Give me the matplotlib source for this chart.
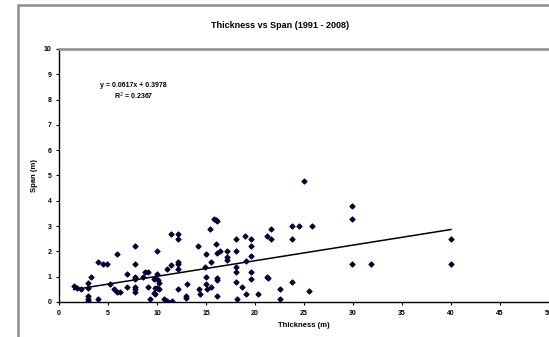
import matplotlib
matplotlib.use('Agg')
import matplotlib.pyplot as plt
from matplotlib.patches import Rectangle
import numpy as np

# thickness (m) vs span (m)
thickness = [1.5, 1.8, 2.2, 3.0, 3.0, 3.0, 3.0, 3.0, 3.3, 4.0, 4.0, 4.5, 4.9,
             5.2, 5.6, 5.9, 6.2, 5.9, 6.9, 6.9, 7.8, 7.8, 7.8, 7.8, 7.8, 7.8,
             7.8, 8.6, 8.8, 9.1, 9.1, 9.3, 9.7, 9.8, 9.8, 10.0, 10.2, 9.7, 9.8,
             10.0, 10.0, 10.1, 10.2, 10.7, 10.9, 11.0, 11.0, 11.4, 11.4, 11.5,
             12.1, 12.1, 12.1, 12.1, 12.1, 12.1, 13.0, 13.0, 13.1, 14.2, 14.3,
             14.4, 14.9, 15.0, 15.0, 15.0, 15.1, 15.4, 15.5, 15.5, 15.8, 16.0,
             16.1, 16.0, 16.1, 16.1, 16.1, 16.1, 16.4, 17.1, 17.1, 17.1, 18.1,
             18.1, 18.1, 18.1, 18.1, 18.2, 18.7, 19.0, 19.1, 19.1, 19.6, 19.6,
             19.6, 19.6, 19.6, 20.3, 21.2, 21.2, 21.3, 21.6, 21.6, 22.5, 22.6,
             23.8, 23.8, 23.8, 24.5, 25.0, 25.5, 25.8, 29.9, 29.9, 29.9, 31.8,
             40.0, 40.0]
span = [0.62, 0.55, 0.52, 0.75, 0.55, 0.22, 0.10, 0.05, 1.0, 0.1, 1.6, 1.5, 1.5,
        0.7, 0.5, 0.4, 0.4, 1.9, 1.1, 0.6, 2.2, 1.5, 1.0, 0.9, 0.6, 0.5,
        0.4, 1.0, 1.2, 1.2, 0.6, 0.1, 0.9, 0.95, 0.55, 0.55, 0.5, 0.35, 0.3,
        2.0, 1.1, 0.85, 0.75, 0.1, 0.05, 0.03, 1.3, 2.7, 1.45, 0.05,
        2.7, 2.5, 1.6, 1.5, 1.3, 0.5, 0.25, 0.15, 0.7, 2.2, 0.5,
        0.3, 1.4, 1.9, 1.0, 0.7, 0.5, 2.9, 1.6, 0.6, 3.3, 3.25,
        3.2, 2.3, 1.95, 0.95, 0.88, 0.22, 2.0, 2.0, 1.77, 1.67, 2.5,
        2.0, 1.4, 1.2, 0.8, 0.1, 0.6, 2.6, 1.64, 0.3, 2.5, 2.2,
        1.8, 1.2, 0.9, 0.3, 2.6, 1.0, 0.95, 2.9, 2.5, 0.5, 0.1,
        3.0, 2.5, 0.8, 3.0, 4.8, 0.42, 3.0, 3.8, 3.3, 1.5, 1.5,
        2.5, 1.5]

slope = 0.0617
intercept = 0.3978
r_squared = 0.2367

plt.rcParams['font.family'] = ['Liberation Sans', 'DejaVu Sans']

fig = plt.figure(figsize=(5.49, 3.37), dpi=100)

# outer chart frame (Excel chart area)
fig.patches.append(Rectangle((18 / 549, -0.1), 1.0, 1 - 5 / 337 + 0.1,
                             transform=fig.transFigure, fill=False,
                             edgecolor='#8c8c8c', linewidth=1.8))

ax = fig.add_axes([59 / 549, 35 / 337, 490 / 549, 253 / 337])

ax.scatter(thickness, span, marker='D', s=6, color='#000033', zorder=3)

xs = np.array([min(thickness), max(thickness)])
ax.plot(xs, slope * xs + intercept, color='black', linewidth=1.1, zorder=2)

ax.set_xlim(0, 50)
ax.set_ylim(0, 10)
ax.set_xticks(range(0, 51, 5))
ax.set_yticks(range(0, 11))
ax.tick_params(labelsize=5, length=2.5, width=0.8, pad=3)
for lab in ax.get_xticklabels() + ax.get_yticklabels():
    lab.set_fontweight('bold')

ax.spines['left'].set_color('black')
ax.spines['bottom'].set_color('black')
ax.spines['left'].set_linewidth(1.0)
ax.spines['bottom'].set_linewidth(1.0)
ax.spines['top'].set_color('#8c8c8c')
ax.spines['top'].set_linewidth(1.8)
ax.spines['right'].set_visible(False)

ax.set_xlabel('Thickness (m)', fontsize=5.5, fontweight='bold', labelpad=4)
ax.set_ylabel('Span (m)', fontsize=5.5, fontweight='bold', labelpad=4)

fig.text(280 / 549, 1 - 25 / 337, 'Thickness vs Span (1991 - 2008)',
         ha='center', va='center', fontsize=6.5, fontweight='bold')

ax.text(7.6, 8.3, f'y = {slope}x + {intercept}\nR$^2$ = {r_squared}',
        ha='center', va='center', fontsize=5, fontweight='bold',
        linespacing=1.1)

fig.savefig('out.png', dpi=100)
